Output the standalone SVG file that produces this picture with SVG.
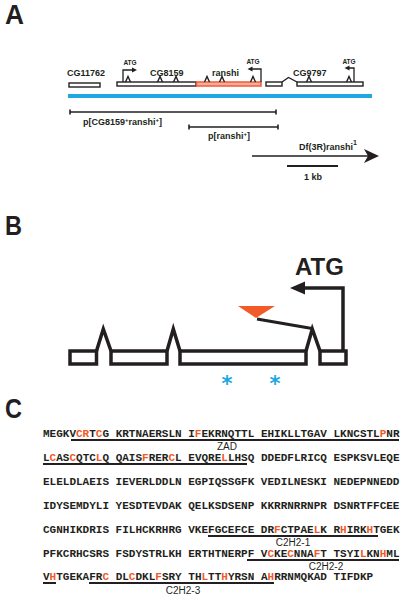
<svg xmlns="http://www.w3.org/2000/svg" width="404" height="599" viewBox="0 0 404 599">
<style>
.pl{font-family:"Liberation Sans",Arial,sans-serif;font-weight:bold;fill:#231f20}
.lb{font-family:"Liberation Sans",Arial,sans-serif;font-weight:bold;font-size:9px;fill:#231f20}
.atg{font-family:"Liberation Sans",Arial,sans-serif;font-weight:bold;font-size:6.5px;fill:#231f20;text-anchor:middle}
.ex{fill:#fff;stroke:#231f20;stroke-width:1.4}
.in{fill:none;stroke:#231f20;stroke-width:1.4;stroke-linejoin:miter}
.thin{fill:none;stroke:#231f20;stroke-width:1.3}
.con{stroke:#231f20;stroke-width:1.6;fill:none}
.bx{fill:#fff;stroke:#231f20;stroke-width:3.5}
.bin{fill:none;stroke:#231f20;stroke-width:3.5;stroke-linejoin:miter;stroke-miterlimit:10}
.seq{font-family:"Liberation Mono","Courier New",monospace;font-weight:bold;font-size:11px;fill:#231f20}
.r{fill:#f05a28}
.ul{stroke:#231f20;stroke-width:2}
.dl{font-family:"Liberation Sans",Arial,sans-serif;font-size:10px;fill:#231f20;text-anchor:middle}
</style>

<!-- Panel labels -->
<g id="panel-labels">
<text class="pl" x="5" y="24" font-size="28" textLength="19" lengthAdjust="spacingAndGlyphs">A</text>
<text class="pl" x="5" y="235" font-size="28" textLength="17" lengthAdjust="spacingAndGlyphs">B</text>
<text class="pl" x="5" y="418" font-size="28" textLength="17" lengthAdjust="spacingAndGlyphs">C</text>
</g>

<!-- Panel A -->
<g id="genomic-region">
<rect x="68" y="94" width="304" height="4" fill="#1ea7e1"/>
</g>

<g id="gene-CG11762">
<rect class="ex" x="69" y="83" width="31" height="4"/>
<text class="lb" x="67" y="76">CG11762</text>
</g>

<g id="gene-CG8159">
<rect class="ex" x="117" y="82" width="79" height="4"/>
<polyline class="in" points="125.5,82 128,76.5 130.5,82"/>
<polyline class="in" points="157.5,82 160,76.5 162.5,82"/>
<polyline class="in" points="173.5,82 176,76.5 178.5,82"/>
<path class="thin" d="M123,82 V70 H133"/>
<polygon points="137,70 132,67.6 132,72.4" fill="#231f20"/>
<text class="atg" x="130" y="65">ATG</text>
<text class="lb" x="150" y="76">CG8159</text>
</g>

<g id="gene-ranshi">
<rect x="196.5" y="82" width="64.5" height="4" fill="#f9b09a" stroke="#f05a3c" stroke-width="1.5"/>
<polyline class="in" points="204.5,82 207,76.5 209.5,82"/>
<polyline class="in" points="219.5,82 222,76.5 224.5,82"/>
<polyline class="in" points="250.5,82 253,76.5 255.5,82"/>
<path class="thin" d="M261,82 V69 H251"/>
<polygon points="247.5,69 252.5,66.6 252.5,71.4" fill="#231f20"/>
<text class="atg" x="253" y="64">ATG</text>
<text class="lb" x="212" y="76">ranshi</text>
</g>

<g id="gene-CG9797">
<rect class="ex" x="266" y="82" width="16" height="4"/>
<polyline class="in" points="282,82 288.5,77.5 297,82"/>
<rect class="ex" x="297" y="82" width="66" height="4"/>
<polyline class="in" points="306.5,82 309,76.5 311.5,82"/>
<polyline class="in" points="346.5,82 349,76.5 351.5,82"/>
<path class="thin" d="M354,82 V68 H348"/>
<polygon points="344.5,68 349.5,65.6 349.5,70.4" fill="#231f20"/>
<text class="atg" x="349" y="64">ATG</text>
<text class="lb" x="293" y="76">CG9797</text>
</g>

<g id="construct-CG8159-ranshi">
<line class="con" x1="70" y1="112" x2="276" y2="112"/>
<line class="con" x1="70" y1="109.5" x2="70" y2="114.5"/>
<line class="con" x1="276" y1="109.5" x2="276" y2="114.5"/>
<text class="lb" x="83" y="125">p[CG8159<tspan dy="-3" font-size="6">+</tspan><tspan dy="3">ranshi</tspan><tspan dy="-3" font-size="6">+</tspan><tspan dy="3">]</tspan></text>
</g>

<g id="construct-ranshi">
<line class="con" x1="189" y1="127" x2="278" y2="127"/>
<line class="con" x1="189" y1="124.5" x2="189" y2="129.5"/>
<line class="con" x1="278" y1="124.5" x2="278" y2="129.5"/>
<text class="lb" x="208" y="139">p[ranshi<tspan dy="-3" font-size="6">+</tspan><tspan dy="3">]</tspan></text>
</g>

<g id="deficiency">
<line class="con" x1="252" y1="156" x2="368" y2="156"/>
<polygon points="379,156 364,149 368,156 364,163" fill="#231f20"/>
<text class="lb" x="299" y="150">Df(3R)ranshi<tspan dy="-5" font-size="7">1</tspan></text>
</g>

<g id="scale-bar">
<line x1="287" y1="166" x2="338" y2="166" stroke="#231f20" stroke-width="2"/>
<text class="lb" x="313" y="180" text-anchor="middle">1 kb</text>
</g>

<!-- Panel B -->
<g id="ranshi-gene-structure">
<rect class="bx" x="70" y="351" width="26.5" height="13"/>
<rect class="bx" x="111" y="351" width="56" height="13"/>
<rect class="bx" x="180" y="351" width="126" height="13"/>
<rect class="bx" x="320" y="351" width="26" height="13"/>
<polyline class="bin" points="96.5,351 103.3,329 111,351"/>
<polyline class="bin" points="167,351 173.3,329 180,351"/>
<polyline class="bin" points="306,351 312.3,329 320,351"/>
</g>

<g id="start-site">
<path d="M343,351 V288 H303" fill="none" stroke="#231f20" stroke-width="3.5"/>
<polygon points="290,288 305,281.5 305,294.5" fill="#231f20"/>
<text class="pl" x="319.5" y="275" font-size="24" text-anchor="middle">ATG</text>
</g>

<g id="insertion">
<polygon points="238,306 275,306 256,318" fill="#f15a29"/>
<line x1="257" y1="319" x2="312" y2="328.5" stroke="#231f20" stroke-width="3"/>
</g>

<g id="mutations">
<text x="227" y="391" font-family="DejaVu Sans,sans-serif" font-weight="bold" font-size="21" fill="#1ea7e1" text-anchor="middle">*</text>
<text x="275" y="391" font-family="DejaVu Sans,sans-serif" font-weight="bold" font-size="21" fill="#1ea7e1" text-anchor="middle">*</text>
</g>

<!-- Panel C -->
<g id="protein-sequence">
<text class="seq" x="43" y="437">MEGKV<tspan class="r">CR</tspan>T<tspan class="r">C</tspan>G KRTNAERSLN I<tspan class="r">F</tspan>EKRNQTTL EHIKLLTGAV LKNCSTL<tspan class="r">P</tspan>NR</text>
<text class="seq" x="43" y="461">L<tspan class="r">C</tspan>AS<tspan class="r">C</tspan>QTC<tspan class="r">L</tspan>Q QAIS<tspan class="r">F</tspan>RER<tspan class="r">C</tspan>L EVQRE<tspan class="r">L</tspan>LHSQ DDEDFLRICQ ESPKSVLEQE</text>
<text class="seq" x="43" y="485">ELELDLAEIS IEVERLDDLN EGPIQSSGFK VEDILNESKI NEDEPNNEDD</text>
<text class="seq" x="43" y="509">IDYSEMDYLI YESDTEVDAK QELKSDSENP KKRRNRRNPR DSNRTFFCEE</text>
<text class="seq" x="43" y="533">CGNHIKDRIS FILHCKRHRG VKEFGCEFCE DR<tspan class="r">F</tspan>CTPAE<tspan class="r">L</tspan>K R<tspan class="r">H</tspan>IRK<tspan class="r">H</tspan>TGEK</text>
<text class="seq" x="43" y="557">PFKCRHCSRS FSDYSTRLKH ERTHTNERPF V<tspan class="r">C</tspan>KE<tspan class="r">C</tspan>NNA<tspan class="r">F</tspan>T TSYI<tspan class="r">L</tspan>KN<tspan class="r">H</tspan>ML</text>
<text class="seq" x="43" y="580">V<tspan class="r">H</tspan>TGEKAFR<tspan class="r">C</tspan> DL<tspan class="r">C</tspan>DKL<tspan class="r">F</tspan>SRY TH<tspan class="r">L</tspan>TT<tspan class="r">H</tspan>YRSN A<tspan class="r">H</tspan>RRNMQKAD TIFDKP</text>
</g>

<g id="domain-ZAD">
<line class="ul" x1="71" y1="440" x2="399" y2="440"/>
<line class="ul" x1="43" y1="464" x2="247" y2="464"/>
<text class="dl" x="227" y="450" font-size="9">ZAD</text>
</g>

<g id="domain-C2H2-1">
<line class="ul" x1="208" y1="536" x2="378" y2="536"/>
<text class="dl" x="293" y="546">C2H2-1</text>
</g>

<g id="domain-C2H2-2">
<line class="ul" x1="247" y1="560" x2="399" y2="560"/>
<text class="dl" x="326" y="570">C2H2-2</text>
</g>

<g id="domain-C2H2-3">
<line class="ul" x1="43" y1="583" x2="56" y2="583"/>
<line class="ul" x1="89" y1="583" x2="274" y2="583"/>
<text class="dl" x="183" y="594">C2H2-3</text>
</g>

<g id="connectors"></g>
</svg>
